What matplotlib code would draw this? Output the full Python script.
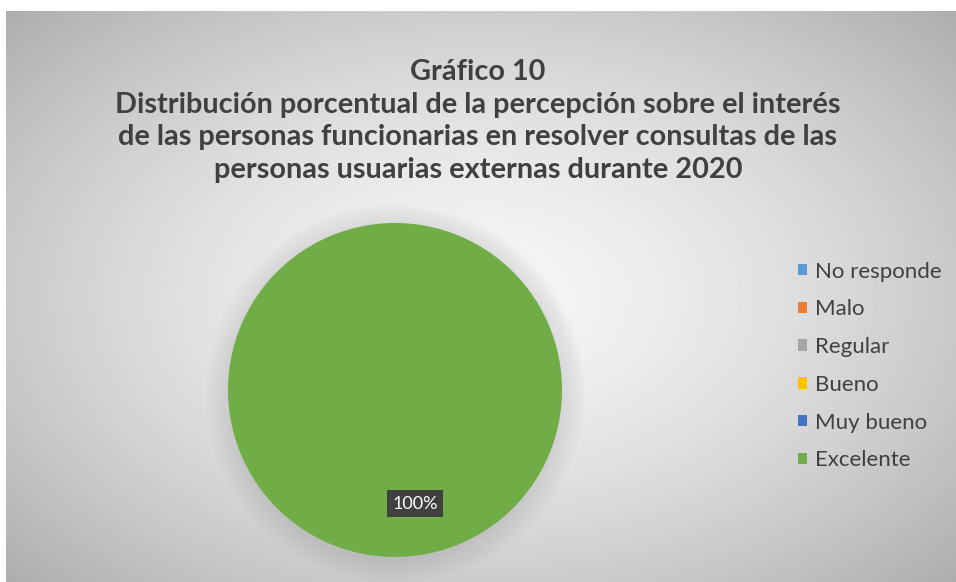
import matplotlib.pyplot as plt
import numpy as np
from matplotlib.patches import Circle

# Datos del gráfico
categorias = ['No responde', 'Malo', 'Regular', 'Bueno', 'Muy bueno', 'Excelente']
porcentajes = [0, 0, 0, 0, 0, 100]
colores = ['#5B9BD5', '#ED7D31', '#A5A5A5', '#FFC000', '#4472C4', '#70AD47']

titulo = ('Gráfico 10\n'
          'Distribución porcentual de la percepción sobre el interés\n'
          'de las personas funcionarias en resolver consultas de las\n'
          'personas usuarias externas durante 2020')

plt.rcParams['font.family'] = ['Lato', 'DejaVu Sans']

fig = plt.figure(figsize=(9.56, 5.82), dpi=100)
fig.patch.set_facecolor('white')

# Fondo con degradado radial (estilo Excel)
bg = fig.add_axes([6 / 956, 0, 950 / 956, 571 / 582], zorder=0)
yy, xx = np.mgrid[-1:1:300j, -1:1:500j]
r = np.sqrt((xx * 0.95) ** 2 + (yy * 0.9) ** 2)
grad = 0.965 - 0.19 * np.clip(r, 0, 1.4) ** 1.5
bg.imshow(grad, cmap='gray', vmin=0, vmax=1, aspect='auto', extent=[0, 1, 0, 1])
bg.axis('off')

fig.text(0.5, 1 - 121 / 582, titulo, ha='center', va='center', fontsize=20.8,
         fontweight='bold', color='#404040', linespacing=1.31)

# Sombra suave alrededor del pastel
ax = fig.add_axes([(395 - 200) / 956, (582 - 390 - 200) / 582, 400 / 956, 400 / 582], zorder=1)
for k in range(10):
    ax.add_patch(Circle((0, -0.02), 0.84 + k * 0.012, color='#909090', alpha=0.025, lw=0))

wedges, _ = ax.pie(porcentajes, colors=colores, startangle=90, counterclock=False,
                   radius=0.835, wedgeprops=dict(linewidth=0))
for w, v in zip(wedges, porcentajes):
    if v > 0:
        ang = np.deg2rad((w.theta1 + w.theta2) / 2)
        ax.text(0.835 * 0.62 * np.cos(ang) + 0.1, 0.835 * 0.62 * np.sin(ang) - 0.05, f'{v}%',
                ha='center', va='center', fontsize=13, color='white',
                bbox=dict(boxstyle='square,pad=0.3', fc='#404040', ec='none'))
ax.set_xlim(-1, 1)
ax.set_ylim(-1, 1)
ax.set_aspect('equal')
ax.axis('off')

leg = fig.legend(wedges, categorias, loc='center left',
                 bbox_to_anchor=(778 / 956, 1 - 366 / 582), frameon=False,
                 fontsize=16, labelcolor='#404040', handlelength=0.42,
                 handleheight=0.42, handletextpad=0.35, labelspacing=0.8)

fig.savefig('out.png', dpi=100, facecolor=fig.get_facecolor())
